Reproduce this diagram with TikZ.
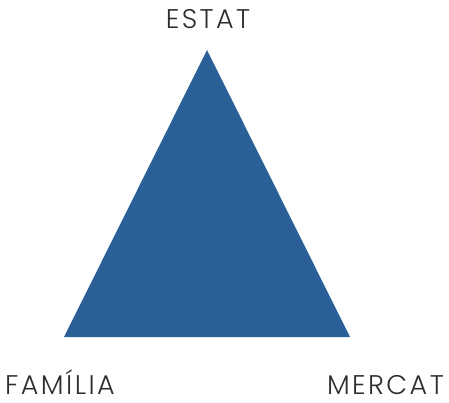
\documentclass[tikz,border=0pt]{standalone}
\usepackage{fontspec}
\newfontfamily\labelfont{Poppins Light}[LetterSpace=9]
\usetikzlibrary{positioning}
\definecolor{triblue}{HTML}{2A5F97}
\definecolor{labelgray}{HTML}{2E2E2E}

\begin{document}
\begin{tikzpicture}
[x=1pt,y=-1pt,
corner/.style={inner sep=0pt},
label text/.style={inner sep=0pt,font=\labelfont\fontsize{27}{27}\selectfont,text=labelgray}]
\useasboundingbox (0,0) rectangle (449,402);

%% corners of the triangle
\foreach \cornername/\x/\y in {top/207/50, left/64/337, right/350/337}
{
\coordinate (\cornername) at (\x,\y);
}

%% the triangle
\fill[triblue] (top) -- (left) -- (right) -- cycle;

%% labels
\node (estat) [label text,anchor=base] at (208,28) {ESTAT};
\node (familia) [label text,anchor=base west] at (5,394) {FAMÍLIA};
\node (mercat) [label text,anchor=base east] at (444,394) {MERCAT};

\end{tikzpicture}
\end{document}
